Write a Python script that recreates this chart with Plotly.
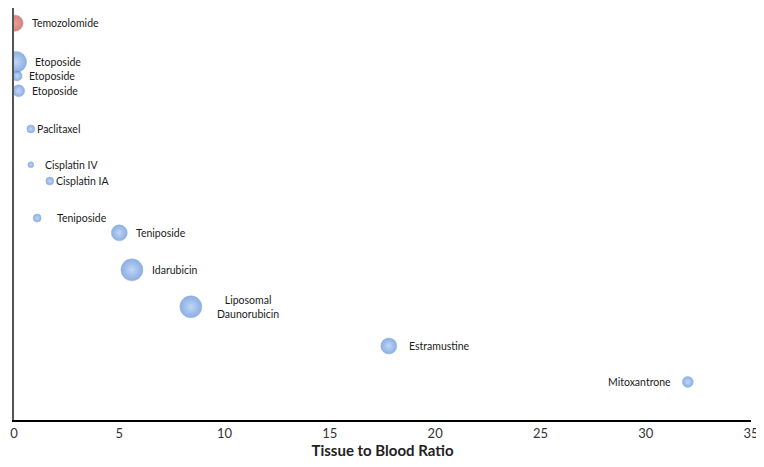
import plotly.graph_objects as go

drugs = ["Temozolomide", "Etoposide", "Etoposide", "Etoposide", "Paclitaxel",
         "Cisplatin IV", "Cisplatin IA", "Teniposide", "Teniposide", "Idarubicin",
         "Liposomal<br>Daunorubicin", "Estramustine", "Mitoxantrone"]
ratio = [0.05, 0.1, 0.15, 0.22, 0.8, 0.8, 1.7, 1.1, 5.0, 5.6, 8.4, 17.8, 32.0]
row = [0.49, 1.54, 1.92, 2.32, 3.35, 4.32, 4.76, 5.76, 6.16, 7.16, 8.16, 9.22, 10.19]
bubble = [16, 21, 10, 12, 8, 6, 8, 8, 16, 22, 22, 16, 11]
is_red = [True] + [False] * 12
x_ticks = [0, 5, 10, 15, 20, 25, 30, 35]

# label placement (pixels, style only)
label_dx = [15, 17, 10, 11, 4, 12, 4, 18, 15, 18, 57, 18, -15]

blue_c, blue_e = "#a6c6f3", "#5a8cd6"
red_c, red_e = "#e7736b", "#c0504d"

fig = go.Figure()
fig.add_trace(go.Scatter(
    x=ratio, y=row, mode="markers", cliponaxis=True,
    marker=dict(
        size=bubble,
        color=[red_e if r else blue_e for r in is_red],
        gradient=dict(type="radial", color=[red_c if r else blue_c for r in is_red]),
        line=dict(width=0.5, color=[red_e if r else "#6d98d6" for r in is_red]),
    ),
    hoverinfo="skip", showlegend=False,
))

for name, xv, yv, dx in zip(drugs, ratio, row, label_dx):
    if "<br>" in name:
        anchor = "center"
    else:
        anchor = "left" if dx > 0 else "right"
    fig.add_annotation(
        x=xv, y=yv, text=name, showarrow=False, xanchor=anchor, yanchor="middle",
        xshift=dx, align="center",
        font=dict(family="Lato, Open Sans, sans-serif", size=10.5, color="#1a1a1a"),
    )

fig.update_layout(
    width=756, height=459,
    margin=dict(l=6, r=13, t=0, b=47),
    paper_bgcolor="white", plot_bgcolor="white",
    xaxis=dict(
        range=[0, 35], tickvals=x_ticks, ticktext=[str(t) for t in x_ticks],
        showgrid=False, zeroline=False, showline=True, linecolor="black", linewidth=2,
        ticks="", automargin=False,
        tickfont=dict(family="Lato, sans-serif", size=13, color="#333333"),
        title=dict(text="<b>Tissue to Blood Ratio</b>",
                   font=dict(family="Lato, sans-serif", size=15, color="#222222"),
                   standoff=6),
    ),
    yaxis=dict(
        range=[11.22, 0.081], showgrid=False, zeroline=False, showticklabels=False,
        ticks="", showline=True, linecolor="#555555", linewidth=1.5, automargin=False,
    ),
)

fig.write_html("out.html")
